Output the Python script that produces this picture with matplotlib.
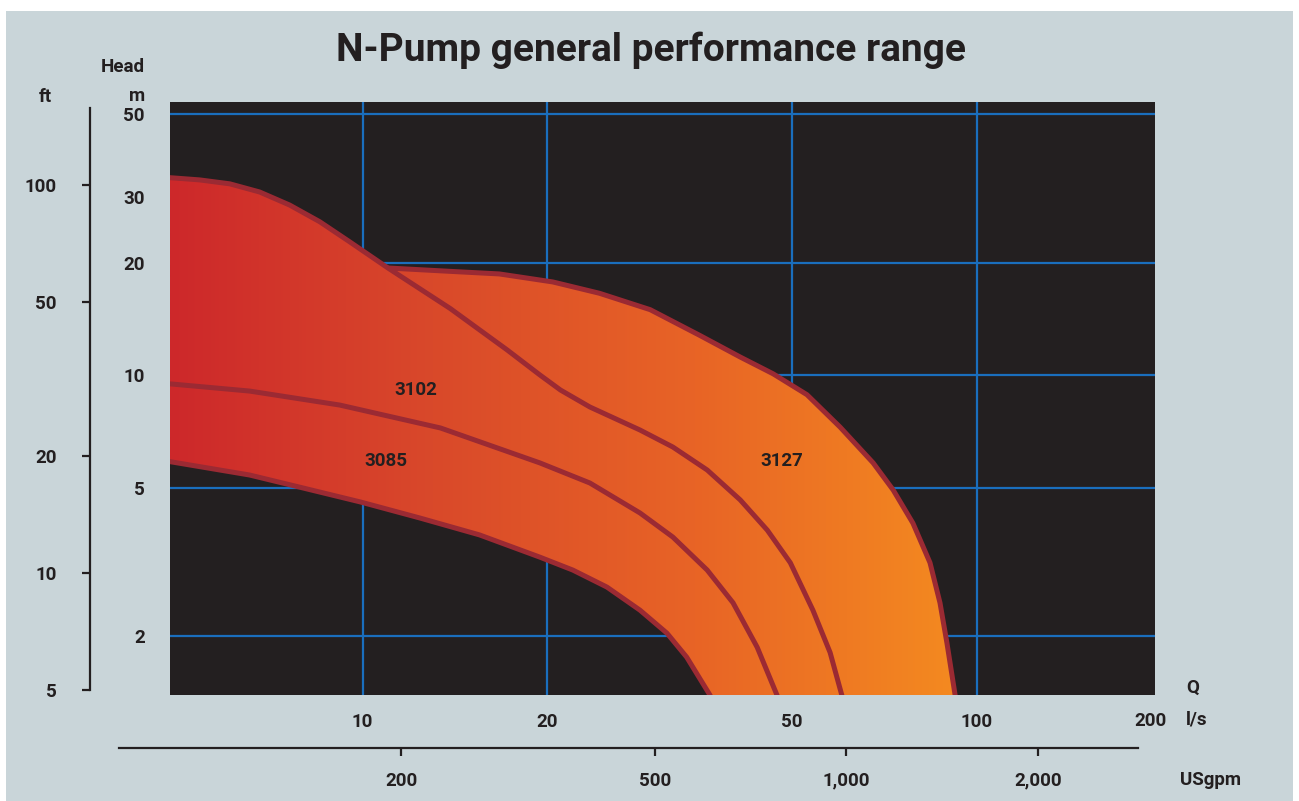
import numpy as np
import matplotlib
matplotlib.use("Agg")
import matplotlib.pyplot as plt
from matplotlib.colors import LinearSegmentedColormap
from matplotlib.patches import Polygon, Rectangle

# Curves: Q in l/s, head in m
q_3102 = [4.7, 5.43, 6.08, 6.80, 7.61, 8.52, 9.53, 11.0, 13.9, 17.2, 19.44, 21.0, 23.45,
          28.3, 32.0, 36.4, 41.2, 45.6, 49.7, 54.1, 57.7, 60.3, 60.8]
h_3102 = [34.0, 33.4, 32.6, 31.0, 28.6, 25.8, 22.8, 19.4, 15.1, 11.7, 10.03, 9.14, 8.23,
          7.14, 6.43, 5.58, 4.64, 3.85, 3.15, 2.35, 1.81, 1.39, 1.30]
join_idx = 7  # 3102 upper branch ends where 3127 starts

q_3127 = [11.0, 13.9, 16.7, 20.4, 24.3, 29.4, 35.4, 41.2, 46.6, 52.9, 59.9, 67.8, 73.1,
          78.7, 83.9, 87.1, 89.4, 92.2, 92.6]
h_3127 = [19.4, 19.0, 18.7, 17.8, 16.6, 15.0, 12.8, 11.2, 10.1, 8.88, 7.27, 5.83, 4.93,
          4.02, 3.15, 2.46, 1.92, 1.39, 1.30]

q_3085 = [4.7, 6.55, 9.18, 13.4, 19.44, 23.45, 28.3, 32.0, 36.4, 40.1, 43.9, 47.3, 47.7]
h_3085 = [9.54, 9.08, 8.33, 7.23, 5.83, 5.15, 4.28, 3.69, 3.01, 2.46, 1.87, 1.39, 1.30]

q_low = [4.7, 6.55, 7.90, 9.93, 12.4, 15.5, 19.44, 22.0, 25.0, 28.3, 31.3, 33.7, 36.8, 37.3]
h_low = [5.93, 5.41, 5.02, 4.58, 4.15, 3.74, 3.26, 3.01, 2.71, 2.35, 2.04, 1.76, 1.39, 1.30]

labels = ["3102", "3085", "3127"]
label_q = [12.2, 10.9, 48.2]
label_h = [9.14, 5.9, 5.9]

m_ticks = [2, 5, 10, 20, 30, 50]
m_grid = [2, 5, 10, 20, 50]
ls_ticks = [10, 20, 50, 100]
ls_grid = [10, 20, 50, 100]
ft_ticks = [5, 10, 20, 50, 100]
gpm_ticks = [200, 500, 1000, 2000]
gpm_labels = ["200", "500", "1,000", "2,000"]

BG = "#c9d5d9"
DARK = "#231f20"
GRID = "#1a6ebd"
EDGE = "#9b2a33"
TXT = "#231f20"

plt.rcParams['font.family'] = ['Roboto', 'DejaVu Sans']
plt.rcParams['font.weight'] = 'bold'

W, H = 1299, 801
fig = plt.figure(figsize=(W / 100, H / 100), dpi=100, facecolor="white")
fig.patches.append(Rectangle((6 / W, 0), 1287 / W, 790 / H, transform=fig.transFigure,
                             facecolor=BG, edgecolor="none", zorder=-10))

rect = [170 / W, (H - 695) / H, 985 / W, 593 / H]
ax = fig.add_axes(rect)
ax.set_facecolor(DARK)
ax.set_xscale("log")
ax.set_yscale("log")

for v in ls_grid:
    ax.axvline(v, color=GRID, lw=1.6, zorder=1)
for v in m_grid:
    ax.axhline(v, color=GRID, lw=1.6, zorder=1)

# filled envelope with horizontal gradient
env_q = q_3102[:join_idx] + q_3127
env_h = h_3102[:join_idx] + h_3127
poly_q = env_q + q_low[::-1]
poly_h = env_h + h_low[::-1]
poly = Polygon(np.column_stack([poly_q, poly_h]), closed=True, facecolor="none",
               edgecolor="none", transform=ax.transData)
ax.add_patch(poly)
cmap = LinearSegmentedColormap.from_list("pump", ["#cd282b", "#d9492a", "#e86426", "#f48a20"])
grad = np.linspace(0, 1, 512).reshape(1, -1)
img = ax.imshow(grad, extent=[0, 0.8, 0, 1], transform=ax.transAxes, aspect="auto",
                cmap=cmap, zorder=2, interpolation="bicubic")
img.set_clip_path(poly)

lw = 3.6
for qq, hh in [(q_3102, h_3102), (q_3127, h_3127), (q_3085, h_3085), (q_low, h_low)]:
    ax.plot(qq, hh, color=EDGE, lw=lw, zorder=3, solid_joinstyle="round", solid_capstyle="butt")

for t, q, h in zip(labels, label_q, label_h):
    ax.text(q, h, t, ha="center", va="center", fontsize=13.5, fontweight="bold", color=TXT, zorder=4)

ax.set_xlim(4.86, 195)
ax.set_ylim(1.393, 54.0)
for s in ax.spines.values():
    s.set_visible(False)

ax.set_xticks(ls_ticks)
ax.set_xticklabels([str(v) for v in ls_ticks])
ax.set_yticks(m_ticks)
ax.set_yticklabels([str(v) for v in m_ticks])
ax.minorticks_off()
ax.tick_params(axis="x", length=0, pad=13, labelsize=13.5, labelcolor=TXT)
ax.tick_params(axis="y", length=0, pad=18, labelsize=13.5, labelcolor=TXT)
# the 200 l/s label sits on the right edge of the plot
ax.text(191.5, -26 / 593, "200", transform=ax.get_xaxis_transform(), ha="center", va="center",
        fontsize=13.5, fontweight="bold", color=TXT, clip_on=False)

# ft axis on the far left
axf = fig.add_axes(rect)
axf.patch.set_visible(False)
axf.set_yscale("log")
axf.set_ylim(4.84, 164)
axf.set_xticks([])
for k in ["top", "right", "bottom"]:
    axf.spines[k].set_visible(False)
axf.spines["left"].set_position(("axes", -80 / 985))
axf.spines["left"].set_bounds(5, 158)
axf.spines["left"].set_linewidth(1.6)
axf.spines["left"].set_color(TXT)
axf.set_yticks(ft_ticks)
axf.set_yticklabels([str(v) for v in ft_ticks])
axf.minorticks_off()
axf.tick_params(axis="y", length=6, width=1.6, color=TXT, pad=18, labelsize=13.5, labelcolor=TXT)

# USgpm axis at the bottom
axg = fig.add_axes([119 / W, (H - 748) / H, 1019 / W, 0.0001])
axg.patch.set_visible(False)
axg.set_xscale("log")
axg.set_xlim(72.1, 2869)
axg.set_yticks([])
for k in ["top", "right", "left"]:
    axg.spines[k].set_visible(False)
axg.spines["bottom"].set_linewidth(1.6)
axg.spines["bottom"].set_color(TXT)
axg.set_xticks(gpm_ticks)
axg.set_xticklabels(gpm_labels)
axg.minorticks_off()
axg.tick_params(axis="x", length=6, width=1.6, color=TXT, pad=11, labelsize=13.5, labelcolor=TXT)

def ftext(x, y, s, **kw):
    fig.text(x / W, 1 - y / H, s, color=TXT, fontweight="bold", **kw)

ftext(651, 50, "N-Pump general performance range", fontsize=28, ha="center", va="center")
ftext(145, 67, "Head", fontsize=13.5, ha="right", va="center")
ftext(145, 96, "m", fontsize=13.5, ha="right", va="center")
ftext(45, 97, "ft", fontsize=13.5, ha="center", va="center")
ftext(1193, 688, "Q", fontsize=13.5, ha="center", va="center")
ftext(1186, 720, "l/s", fontsize=13.5, ha="left", va="center")
ftext(1180, 780, "USgpm", fontsize=13.5, ha="left", va="center")

fig.savefig("out.png", dpi=100, facecolor=fig.get_facecolor())
